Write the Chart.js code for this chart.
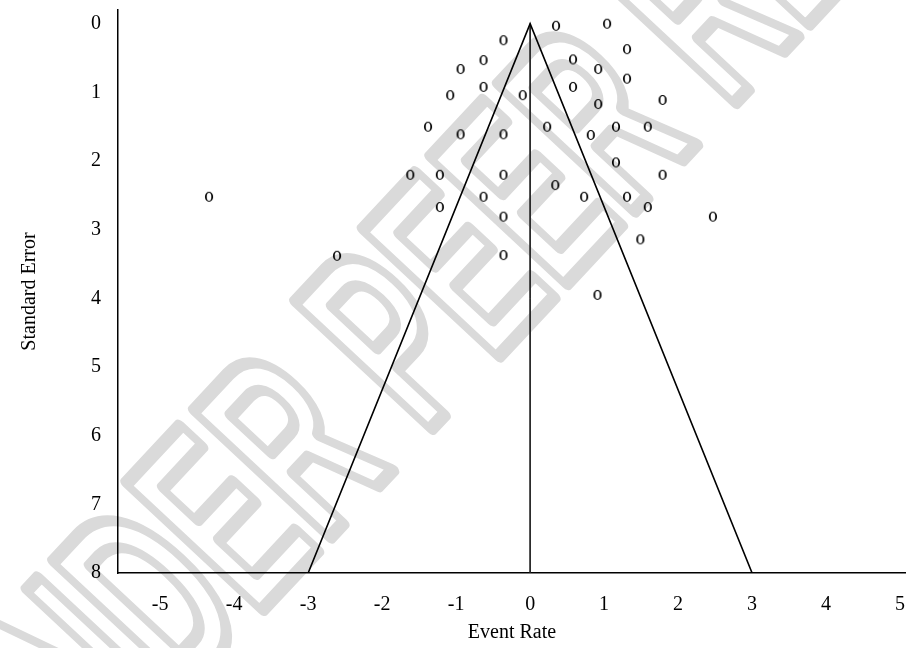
<!DOCTYPE html>
<html>
<head>
<meta charset="utf-8">
<script src="https://cdn.jsdelivr.net/npm/chart.js@4.4.1/dist/chart.umd.min.js"></script>
<style>
html, body { margin: 0; padding: 0; background: #fff; }
</style>
</head>
<body>
<canvas id="funnel" width="906" height="648"></canvas>
<script>
// study points (event rate, standard error)
const studyEffect = [-0.36, -0.63, -0.94, -0.63, -1.08, -0.10, -1.38, -0.94, -0.36,
    0.35, 1.04, 1.31, 0.58, 0.92, 1.31, 0.58, 0.92, 1.79, 0.23, 0.82, 1.16, 1.59,
    -1.62, -1.22, -0.36, -0.63, -1.22, -0.36, -0.36,
    1.16, 1.79, 0.34, 0.73, 1.31, 1.59, 2.47, 1.49, 0.91,
    -4.34, -2.61];
const studySE = [0.24, 0.53, 0.66, 0.92, 1.04, 1.04, 1.50, 1.61, 1.61,
    0.03, 0.00, 0.37, 0.52, 0.66, 0.80, 0.92, 1.17, 1.11, 1.50, 1.62, 1.50, 1.50,
    2.20, 2.20, 2.20, 2.52, 2.67, 2.81, 3.37,
    2.02, 2.20, 2.35, 2.52, 2.52, 2.67, 2.81, 3.14, 3.95,
    2.52, 3.38];

// funnel outline and centre line
const funnelX = [-3, 0, 3];
const funnelY = [8, 0, 8];
const centreX = [0, 0];
const centreY = [0, 8];

const serif = 'Liberation Serif';

const toPoints = (xs, ys) => xs.map((x, i) => ({ x: x, y: ys[i] }));

// serif-like "o" marker: thick sides, thin top and bottom
function makeMarker() {
    const c = document.createElement('canvas');
    c.width = 12;
    c.height = 14;
    const g = c.getContext('2d');
    g.fillStyle = '#000';
    g.beginPath();
    g.ellipse(6, 7, 4.1, 5, 0, 0, Math.PI * 2);
    g.ellipse(6, 7, 2.3, 4, 0, 0, Math.PI * 2);
    g.fill('evenodd');
    return c;
}

const watermark = {
    id: 'watermark',
    beforeDraw(chart) {
        const ctx = chart.ctx;
        ctx.save();
        ctx.translate(527, 217);
        ctx.rotate(-47 * Math.PI / 180);
        ctx.scale(0.55, 1);
        ctx.font = 'bold 270px "Liberation Sans"';
        ctx.textAlign = 'center';
        ctx.textBaseline = 'middle';
        ctx.lineJoin = 'round';
        ctx.lineWidth = 14;
        ctx.strokeStyle = '#dadada';
        ctx.strokeText('UNDER PEER REVIEW', 0, 0);
        ctx.restore();
    }
};

const tickFont = { family: serif, size: 20 };

const noPad = (s) => {
    s.paddingLeft = 0;
    s.paddingRight = 0;
    s.paddingTop = 0;
    s.paddingBottom = 0;
};

new Chart(document.getElementById('funnel'), {
    type: 'scatter',
    data: {
        datasets: [{
            data: toPoints(studyEffect, studySE),
            pointStyle: makeMarker(),
            pointRadius: 6
        }, {
            data: toPoints(funnelX, funnelY),
            showLine: true,
            borderColor: '#000',
            borderWidth: 1.6,
            pointRadius: 0
        }, {
            data: toPoints(centreX, centreY),
            showLine: true,
            borderColor: '#222',
            borderWidth: 1,
            pointRadius: 0
        }]
    },
    options: {
        responsive: false,
        animation: false,
        devicePixelRatio: 1,
        layout: { autoPadding: false, padding: { top: 10, right: 0, bottom: 0, left: 0 } },
        plugins: {
            legend: { display: false },
            tooltip: { enabled: false }
        },
        scales: {
            x: {
                type: 'linear',
                min: -5.57,
                max: 5.08,
                grid: { display: false, drawTicks: false },
                border: { display: true, color: '#000', width: 1.5 },
                ticks: { stepSize: 1, includeBounds: false, color: '#000', font: tickFont, padding: 20 },
                title: { display: true, text: 'Event Rate', color: '#000', font: tickFont, padding: { top: 0, bottom: 3 } },
                afterFit: (s) => { s.height = 75; noPad(s); }
            },
            y: {
                type: 'linear',
                reverse: true,
                min: -0.2,
                max: 8,
                grid: { display: false, drawTicks: false },
                border: { display: true, color: '#000', width: 1.5 },
                ticks: { stepSize: 1, includeBounds: false, color: '#000', font: tickFont, padding: 17 },
                title: { display: true, text: 'Standard Error', color: '#000', font: tickFont, padding: { top: 18, bottom: 0 } },
                afterFit: (s) => { s.width = 118; noPad(s); }
            }
        }
    },
    plugins: [watermark]
});
</script>
</body>
</html>
